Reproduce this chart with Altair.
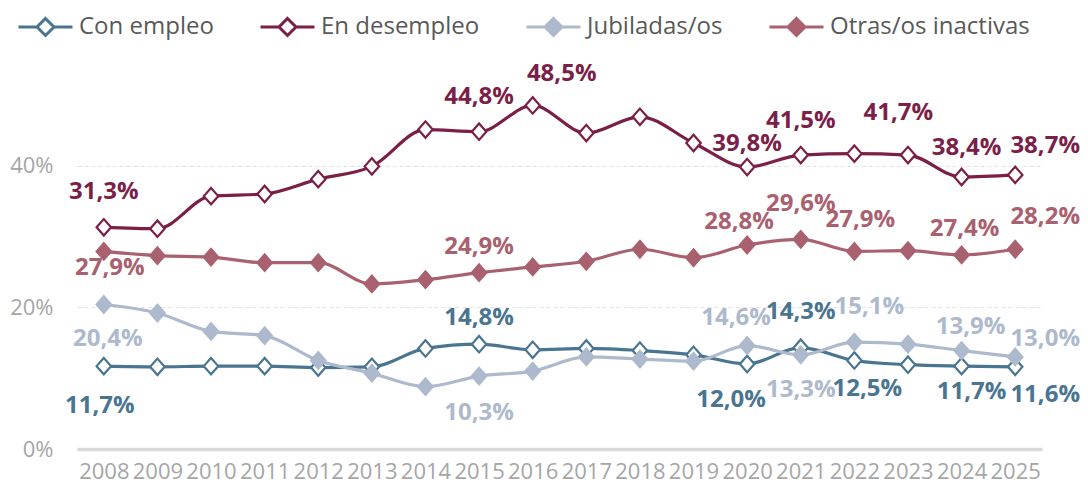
import altair as alt
import pandas as pd

# ---------------- data ----------------
years = list(range(2008, 2026))
series = ["Con empleo", "En desempleo", "Jubiladas/os", "Otras/os inactivas"]

con_empleo = [11.7, 11.6, 11.7, 11.7, 11.5, 11.6, 14.2, 14.8, 14.0, 14.2, 13.9, 13.3, 12.0, 14.3, 12.5, 11.9, 11.7, 11.6]
en_desempleo = [31.3, 31.1, 35.7, 36.0, 38.1, 39.9, 45.1, 44.8, 48.5, 44.6, 46.9, 43.2, 39.8, 41.5, 41.7, 41.5, 38.4, 38.7]
jubiladas = [20.4, 19.2, 16.6, 16.0, 12.5, 10.7, 8.8, 10.3, 11.0, 13.0, 12.7, 12.4, 14.6, 13.3, 15.1, 14.8, 13.9, 13.0]
otras = [27.9, 27.3, 27.1, 26.3, 26.3, 23.3, 23.9, 24.9, 25.7, 26.5, 28.2, 27.0, 28.8, 29.6, 27.9, 28.0, 27.4, 28.2]

y_ticks = [0, 20, 40]

# years that carry a data label, per series
label_years = {
    "Con empleo": [2008, 2015, 2020, 2021, 2022, 2024, 2025],
    "En desempleo": [2008, 2015, 2016, 2020, 2021, 2022, 2024, 2025],
    "Jubiladas/os": [2008, 2015, 2020, 2021, 2022, 2024, 2025],
    "Otras/os inactivas": [2008, 2015, 2020, 2021, 2022, 2024, 2025],
}
# label placement (pixel offsets from the point), separate from values
label_dx = {
    "Con empleo": [-4, 0, -16, 0, 13, 10, 30],
    "En desempleo": [0, 0, 29, 0, 0, 44, 5, 30],
    "Jubiladas/os": [4, 0, -11, 0, 15, 9, 30],
    "Otras/os inactivas": [6, 0, -8, 0, 6, 3, 30],
}
label_dy = {
    "Con empleo": [40, -26, 36, -36, 29, 26, 28],
    "En desempleo": [-35, -35, -31, -23, -34, -41, -29, -29],
    "Jubiladas/os": [34, 37, -28, 35, -35, -24, -18],
    "Otras/os inactivas": [17, -26, -23, -35, -31, -26, -32],
}

# ---------------- styles / layout ----------------
colors = ["#4A7590", "#7B1F48", "#ADB9CC", "#A9616F"]
fills = ["#FFFFFF", "#FFFFFF", "#ADB9CC", "#A9616F"]
FONT = "Open Sans"
W, H = 965, 425
X_DOMAIN = [2007.5, 2025.5]
Y_DOMAIN = [0, 60]
px_per_year = W / (X_DOMAIN[1] - X_DOMAIN[0])
px_per_pct = H / (Y_DOMAIN[1] - Y_DOMAIN[0])

values_by_series = dict(zip(series, [con_empleo, en_desempleo, jubiladas, otras]))

rows = []
for s in series:
    for yr, v in zip(years, values_by_series[s]):
        rows.append({"year": yr, "series": s, "value": v})
df = pd.DataFrame(rows)

lab_rows = []
for s in series:
    vals = dict(zip(years, values_by_series[s]))
    for yr, dx, dy in zip(label_years[s], label_dx[s], label_dy[s]):
        v = vals[yr]
        lab_rows.append({
            "year": yr, "series": s, "value": v,
            "label": f"{v:.1f}".replace(".", ",") + "%",
            "dx": dx, "dy": dy,
        })
labels_df = pd.DataFrame(lab_rows)

legend_symbol = "M-1,0L-0.315,0M0.315,0L1,0M0,-0.315L0.315,0L0,0.315L-0.315,0Z"
point_symbol = "M-0.88,0L0,-1L0.88,0L0,1Z"

legend_def = alt.Legend(
    title=None, orient="none", legendX=-60, legendY=-26, direction="horizontal",
    columns=4, symbolType=legend_symbol, symbolSize=2916, symbolStrokeWidth=3,
    labelFont=FONT, labelFontSize=24, labelColor="#595959", labelOffset=5,
    labelLimit=400, columnPadding=40, padding=0, symbolOpacity=1,
)

x_scale = alt.Scale(domain=X_DOMAIN, nice=False, zero=False)
y_scale = alt.Scale(domain=Y_DOMAIN, nice=False, zero=True)

x_axis = alt.Axis(
    title=None, values=years, format="d", labelAngle=0, ticks=False, grid=False,
    domainColor="#D9D9D9", domainWidth=3.5, labelFlush=False, labelOverlap=False,
    labelColor="#A6A6A6", labelFont=FONT, labelFontSize=22, labelPadding=12,
)
y_axis = alt.Axis(
    title=None, values=y_ticks, labelExpr="datum.value + '%'",
    domain=False, ticks=False, grid=True, gridColor="#E3E3E3",
    gridDash=[4, 3], gridWidth=1,
    labelColor="#A6A6A6", labelFont=FONT, labelFontSize=22, labelPadding=24,
)

stroke_enc = alt.Stroke("series:N", scale=alt.Scale(domain=series, range=colors), legend=legend_def)
fill_enc = alt.Fill("series:N", scale=alt.Scale(domain=series, range=fills), legend=legend_def)

lines = alt.Chart(df).mark_line(strokeWidth=3.2, interpolate="monotone").encode(
    x=alt.X("year:Q", scale=x_scale, axis=x_axis),
    y=alt.Y("value:Q", scale=y_scale, axis=y_axis),
    stroke=stroke_enc,
)
points = alt.Chart(df).mark_point(
    shape=point_symbol, size=270, filled=True, strokeWidth=2.2, opacity=1
).encode(
    x=alt.X("year:Q", scale=x_scale),
    y=alt.Y("value:Q", scale=y_scale),
    stroke=stroke_enc, fill=fill_enc,
)

texts = alt.Chart(labels_df).transform_calculate(
    lx=f"datum.year + datum.dx / {px_per_year}",
    ly=f"datum.value - datum.dy / {px_per_pct}",
).mark_text(
    font=FONT, fontSize=24, fontWeight="bold", align="center", baseline="middle"
).encode(
    x=alt.X("lx:Q", scale=x_scale),
    y=alt.Y("ly:Q", scale=y_scale),
    text="label:N",
    color=alt.Color("series:N", scale=alt.Scale(domain=series, range=colors), legend=None),
)

chart = alt.layer(lines, points, texts).properties(
    width=W, height=H,
    autosize=alt.AutoSizeParams(type="none"),
    padding={"left": 69, "top": 16, "right": 38, "bottom": 34},
).configure(
    font=FONT, background="white", view=alt.ViewConfig(stroke=None)
)

chart.save("out.html", embed_options={"renderer": "svg", "actions": False})
